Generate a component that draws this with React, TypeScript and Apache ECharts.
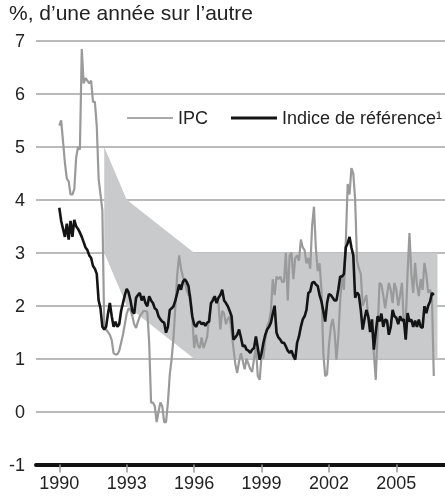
import React, { useEffect, useRef } from 'react';
import * as echarts from 'echarts';

const titleText = '%, d’une année sur l’autre';
const seriesNames = ['IPC', 'Indice de référence¹'];
const startYear = 1990;

// Monthly year-over-year values, Jan 1990 – Sep 2006
const ipcValues = [
  5.4, 5.5, 5.1, 4.7, 4.4, 4.35, 4.1, 4.1, 4.2, 4.8, 5.0, 4.95,
  6.85, 6.2, 6.3, 6.25, 6.2, 6.25, 5.85, 5.85, 5.4, 4.4, 4.1, 3.8,
  1.6, 1.55, 1.5, 1.45, 1.35, 1.1, 1.08, 1.08, 1.15, 1.3, 1.45, 1.65,
  1.85, 1.95, 1.92, 1.8, 1.65, 1.58, 1.7, 1.8, 1.85, 1.9, 1.9, 1.88,
  1.3, 0.17, 0.17, 0.1, -0.2, 0.0, 0.17, 0.1, -0.2, -0.2, 0.17, 0.7,
  1.0, 1.4, 2.0, 2.6, 2.95, 2.7, 2.55, 2.45, 2.3, 2.2, 2.2, 1.8,
  1.2, 1.45, 1.25, 1.2, 1.4, 1.2, 1.3, 1.42, 1.8, 2.0, 2.15, 2.1,
  2.1, 2.05, 1.55, 1.9, 1.85, 1.65, 1.75, 1.8, 1.5, 1.2, 0.9, 0.73,
  0.95, 1.1, 0.95, 0.8, 1.0, 0.9, 0.8, 0.75, 1.0, 1.2, 0.67, 0.6,
  1.05, 1.0, 1.36, 1.6, 1.7, 1.9, 2.5, 2.2, 2.55, 2.5, 2.55, 2.45,
  2.45, 3.0, 2.1, 2.95, 3.0, 2.5, 2.9, 2.95, 2.85, 3.25, 3.1, 3.05,
  2.8, 2.9, 2.7, 3.5, 3.87, 3.1, 2.65, 2.8, 2.3, 1.1, 0.67, 0.7,
  1.25, 1.6, 1.75, 1.5, 0.98, 1.4, 2.1, 2.55, 2.3, 3.2, 4.3, 4.1,
  4.6, 4.5, 4.0, 2.85, 2.7, 2.6, 2.0, 2.1, 2.2, 1.75, 1.74, 1.6,
  1.1, 0.6, 1.5, 2.43, 2.4, 2.2, 1.95, 2.2, 2.43, 2.3, 2.05, 2.43,
  2.3, 2.0, 2.2, 2.43, 1.65, 1.7, 2.62, 3.37, 2.6, 2.24, 2.81, 2.4,
  2.18, 2.5, 2.3, 2.81, 2.6, 2.24, 2.3, 2.18, 0.67,
];

const coreValues = [
  3.85, 3.6, 3.45, 3.3, 3.55, 3.25, 3.6, 3.3, 3.62, 3.5, 3.45, 3.38,
  3.3, 3.2, 3.1, 3.05, 2.95, 2.9, 2.75, 2.7, 2.6, 2.1, 1.95, 1.6,
  1.55, 1.6, 1.85, 2.05, 1.8, 1.6, 1.7, 1.6, 1.65, 1.9, 2.05, 2.2,
  2.32, 2.25, 2.1, 1.9, 1.85, 2.15, 2.2, 2.24, 2.1, 2.18, 2.05, 1.99,
  2.18, 2.1, 2.05, 1.95, 1.92, 1.8, 1.74, 1.7, 1.68, 1.49, 1.6, 1.92,
  1.95, 1.99, 2.1, 2.24, 2.4, 2.3, 2.45, 2.5, 2.45, 2.37, 2.1, 1.8,
  1.65, 1.6, 1.68, 1.7, 1.65, 1.68, 1.62, 1.68, 1.7, 2.05, 2.1, 2.18,
  2.05, 2.15, 2.2, 2.3, 2.1, 2.05, 1.99, 1.9, 1.8, 1.36, 1.4, 1.45,
  1.55, 1.4, 1.23, 1.25, 1.17, 1.15, 1.11, 1.17, 1.2, 1.42, 1.2, 0.98,
  1.1, 1.3, 1.45, 1.55, 1.6, 1.68, 1.85, 2.0, 1.49, 1.4, 1.36, 1.3,
  1.3, 1.23, 1.15, 1.11, 1.15, 1.05, 0.98, 1.3, 1.42, 1.6, 1.74, 1.8,
  1.92, 2.24, 2.27, 2.43, 2.45, 2.4, 2.37, 2.2, 2.08, 1.9, 1.7, 2.05,
  2.22, 2.2, 2.15, 2.1, 2.1, 2.3, 2.55, 2.55, 2.6, 3.1, 3.18, 3.3,
  3.1, 2.95, 2.15, 2.25, 2.2, 1.92, 1.55, 1.75, 1.92, 1.8, 1.5, 1.74,
  1.17, 1.5, 1.8, 1.7, 1.85, 1.6, 1.74, 1.72, 1.45, 1.6, 1.92, 1.8,
  1.77, 1.65, 1.8, 1.72, 1.74, 1.36, 1.86, 1.7, 1.74, 1.6, 1.72, 1.6,
  1.74, 1.6, 1.58, 1.99, 1.86, 2.0, 2.08, 2.24, 2.2,
];

// Target band (upper and lower bounds)
const bandYears = [1992, 1993, 1996, 2006.83];
const bandUpper = [5, 4, 3, 3];
const bandLower = [3, 2, 1, 1];

const xTickYears = [1990, 1993, 1996, 1999, 2002, 2005];

const toPoints = (vals: number[]) => vals.map((v, i) => [startYear + i / 12, v]);

export default function App() {
  const ref = useRef<HTMLDivElement>(null);
  useEffect(() => {
    if (!ref.current) return;
    const chart = echarts.init(ref.current, null, { renderer: 'svg' });
    const font = '"Liberation Sans", Arial, Helvetica, sans-serif';
    const ipcColor = '#9a9a9a';
    const coreColor = '#141414';
    chart.setOption({
      animation: false,
      textStyle: { fontFamily: font },
      title: {
        text: titleText,
        left: 9,
        top: 2,
        padding: 0,
        textStyle: { fontSize: 21, fontWeight: 'normal', color: '#222', fontFamily: font },
      },
      legend: [
        {
          left: 127,
          top: 109,
          padding: 0,
          itemWidth: 46,
          itemHeight: 1.4,
          icon: 'rect',
          itemStyle: { color: '#8c8c8c' },
          textStyle: { fontSize: 18, color: '#222', fontFamily: font },
          data: [seriesNames[0]],
        },
        {
          left: 231,
          top: 109,
          padding: 0,
          itemWidth: 46,
          itemHeight: 2.8,
          icon: 'rect',
          itemStyle: { color: coreColor },
          textStyle: { fontSize: 18, color: '#222', fontFamily: font },
          data: [seriesNames[1]],
        },
      ],
      grid: { left: 36, right: 0, top: 41, bottom: 34.5 },
      xAxis: {
        type: 'value',
        min: 1988.963,
        max: 2007.165,
        axisLine: { show: true, onZero: false, lineStyle: { color: '#111', width: 4 } },
        axisTick: { show: true, customValues: xTickYears, length: 8, lineStyle: { color: '#999', width: 1.5 } },
        axisLabel: { customValues: xTickYears, fontSize: 18, color: '#222', margin: 9, formatter: (v: number) => String(Math.round(v)) },
        splitLine: { show: false },
      },
      yAxis: {
        type: 'value',
        min: -1,
        max: 7,
        interval: 1,
        axisLine: { show: false },
        axisTick: { show: false },
        axisLabel: { fontSize: 18, color: '#222', margin: 11 },
        splitLine: { lineStyle: { color: '#a3a3a3', width: 1.5 } },
      },
      series: [
        {
          type: 'custom',
          name: 'bande',
          silent: true,
          z: 1,
          clip: false,
          data: [[bandYears[0], bandUpper[0]]],
          renderItem: (_params: any, api: any) => {
            const pts: number[][] = [];
            for (let k = 0; k < bandYears.length; k++) pts.push(api.coord([bandYears[k], bandUpper[k]]));
            for (let k = bandYears.length - 1; k >= 0; k--) pts.push(api.coord([bandYears[k], bandLower[k]]));
            return { type: 'polygon', shape: { points: pts }, style: { fill: '#c9cacc' } };
          },
        },
        {
          type: 'line',
          name: seriesNames[0],
          data: toPoints(ipcValues),
          symbol: 'none',
          z: 3,
          itemStyle: { color: ipcColor },
          lineStyle: { color: ipcColor, width: 2.2 },
        },
        {
          type: 'line',
          name: seriesNames[1],
          data: toPoints(coreValues),
          symbol: 'none',
          z: 4,
          itemStyle: { color: coreColor },
          lineStyle: { color: coreColor, width: 2.6 },
        },
      ],
    });
    return () => chart.dispose();
  }, []);
  return <div ref={ref} style={{ position: 'fixed', left: 0, top: 0, width: 445, height: 499 }} />;
}
